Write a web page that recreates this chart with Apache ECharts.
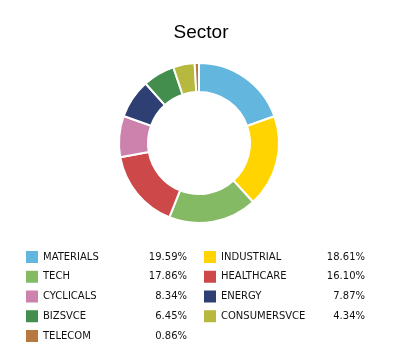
<!DOCTYPE html>
<html><head><meta charset="utf-8">
<script src="https://cdn.jsdelivr.net/npm/echarts@6/dist/echarts.min.js"></script>
<style>html,body{margin:0;padding:0;background:#fff}#c{width:402px;height:363px}</style>
</head><body><div id="c"></div>
<script>
const categories = ['MATERIALS','INDUSTRIAL','TECH','HEALTHCARE','CYCLICALS','ENERGY','BIZSVCE','CONSUMERSVCE','TELECOM'];
const values = [19.59,18.61,17.86,16.10,8.34,7.87,6.45,4.34,0.86];
const colors = ['#63b6dd','#ffd400','#84ba63','#cc4849','#cd82ae','#2e3f73','#438d4d','#b7b83e','#b97840'];
const leftCol = ['MATERIALS','TECH','CYCLICALS','BIZSVCE','TELECOM'];
const rightCol = ['INDUSTRIAL','HEALTHCARE','ENERGY','CONSUMERSVCE'];

const valueOf = {};
categories.forEach((c,i)=>valueOf[c]=values[i]);

const chart = echarts.init(document.getElementById('c'), null, {renderer:'canvas'});
function legendCfg(data, left){
  return {
    data: data, orient:'vertical', left:left, top:251, padding:0,
    itemWidth:12, itemHeight:12, itemGap:7.75, icon:'rect',
    itemStyle:{borderWidth:0},
    selectedMode:false,
    formatter: n => '{n|' + n + '}{v|' + valueOf[n].toFixed(2) + '%}',
    textStyle:{
      fontFamily:'DejaVu Sans', fontSize:10, color:'#111',
      rich:{
        n:{width:100, fontFamily:'DejaVu Sans', fontSize:10, lineHeight:12, color:'#111'},
        v:{width:44, align:'right', fontFamily:'DejaVu Sans', fontSize:10, lineHeight:12, color:'#111'}
      }
    }
  };
}
chart.setOption({
  animation:false,
  color: colors,
  title:{text:'Sector', left:'center', top:18, textStyle:{fontFamily:'Liberation Sans', fontSize:19, fontWeight:'normal', color:'#000'}},
  legend:[legendCfg(leftCol, 26), legendCfg(rightCol, 204)],
  series:[{
    type:'pie', radius:[51,80], center:[199,143], startAngle:90, clockwise:true,
    label:{show:false}, labelLine:{show:false}, silent:true,
    itemStyle:{borderColor:'#fff', borderWidth:2},
    data: categories.map((c,i)=>({name:c, value:values[i]}))
  }]
});
</script></body></html>
